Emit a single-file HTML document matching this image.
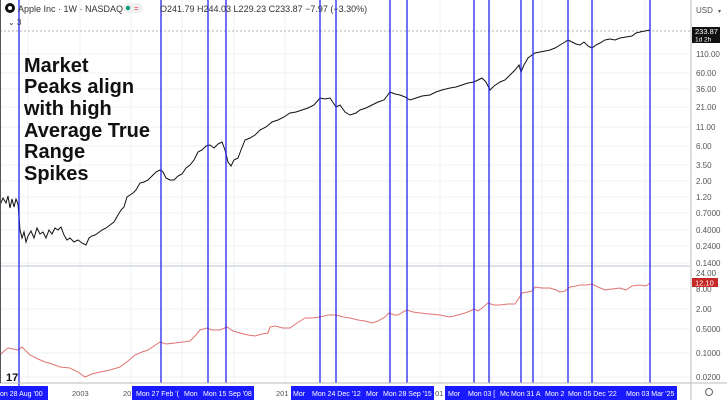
<!DOCTYPE html>
<html><head><meta charset="utf-8"><style>
html,body{margin:0;padding:0;background:#fff;width:727px;height:400px;overflow:hidden}
svg{display:block;font-family:"Liberation Sans",sans-serif}
</style></head><body>
<svg width="727" height="400" viewBox="0 0 727 400" xmlns="http://www.w3.org/2000/svg">
<rect width="727" height="400" fill="#fff"/>
<g stroke="#eef1f6" stroke-width="1">
<line x1="0" y1="54" x2="690" y2="54"/><line x1="0" y1="73" x2="690" y2="73"/><line x1="0" y1="89" x2="690" y2="89"/><line x1="0" y1="107" x2="690" y2="107"/><line x1="0" y1="127" x2="690" y2="127"/><line x1="0" y1="146" x2="690" y2="146"/><line x1="0" y1="165" x2="690" y2="165"/><line x1="0" y1="181" x2="690" y2="181"/><line x1="0" y1="197" x2="690" y2="197"/><line x1="0" y1="213" x2="690" y2="213"/><line x1="0" y1="230" x2="690" y2="230"/><line x1="0" y1="246" x2="690" y2="246"/><line x1="0" y1="263" x2="690" y2="263"/><line x1="0" y1="289" x2="690" y2="289"/><line x1="0" y1="309" x2="690" y2="309"/><line x1="0" y1="329" x2="690" y2="329"/><line x1="0" y1="353" x2="690" y2="353"/><line x1="0" y1="377" x2="690" y2="377"/>
<line x1="28" y1="0" x2="28" y2="383"/><line x1="80" y1="0" x2="80" y2="383"/><line x1="131" y1="0" x2="131" y2="383"/><line x1="182" y1="0" x2="182" y2="383"/><line x1="234" y1="0" x2="234" y2="383"/><line x1="285" y1="0" x2="285" y2="383"/><line x1="336" y1="0" x2="336" y2="383"/><line x1="388" y1="0" x2="388" y2="383"/><line x1="440" y1="0" x2="440" y2="383"/><line x1="491" y1="0" x2="491" y2="383"/><line x1="542" y1="0" x2="542" y2="383"/><line x1="594" y1="0" x2="594" y2="383"/><line x1="645" y1="0" x2="645" y2="383"/>
</g>
<line x1="0" y1="31" x2="690" y2="31" stroke="#999" stroke-dasharray="2,2" stroke-width="0.7"/>
<line x1="0" y1="266" x2="690" y2="266" stroke="#dde1e8" stroke-width="2"/>
<polyline fill="none" stroke="#d9534f" stroke-width="1" opacity="0.8" points="0,355 4,351 8,348 13,349 18,350 22,347 26,351 30,355 38,359 45,362 52,364 60,367 70,368 78,372 85,377 92,374 100,372 110,370 120,367 128,361 135,355 142,352 148,350 154,346 160,342 166,344 175,343 183,342 190,341 195,336 200,330 207,328 212,330 220,330 227,327 233,331 240,333 248,335 255,336 262,334 268,333 270,327 275,326 283,328 290,328 297,323 305,318 312,318 320,317 328,315 336,315 343,317 350,318 358,320 365,321 372,323 378,321 385,317 389,313 394,315 398,315 403,312 407,310 413,312 420,313 430,314 440,315 450,317 458,315 465,313 470,311 474,309 478,311 482,308 488,303 494,305 500,305 508,304 515,304 519,298 522,293 528,292 532,291 535,287 542,288 550,288 556,290 560,292 565,291 570,287 576,286 580,285 586,285 592,284 598,287 605,290 612,289 620,288 626,290 632,286 640,285 646,286 650,283"/>
<polyline fill="none" stroke="#111" stroke-width="1" points="0,205 3,198 6,203 8,196 10,208 12,199 14,207 16,199 18,204 20,230 22,238 24,232 26,242 28,236 31,231 34,238 37,228 40,234 43,232 46,238 49,230 52,234 55,228 58,230 61,227 64,235 67,240 70,238 74,242 78,240 82,243 86,245 89,238 92,236 95,235 98,233 102,230 106,228 110,225 114,222 118,215 121,210 124,207 127,197 130,195 133,193 136,190 140,183 144,182 148,180 152,176 156,172 160,170 163,172 166,178 170,180 174,180 178,176 182,174 186,168 190,165 194,160 198,152 202,150 206,146 210,145 214,148 218,144 222,142 225,150 228,162 231,166 234,160 238,158 241,150 245,140 250,138 255,135 260,130 266,127 272,122 278,120 284,117 290,113 296,112 302,110 308,108 314,105 320,98 325,99 330,98 336,107 340,105 345,112 350,115 356,113 360,110 366,108 372,105 378,102 384,100 390,92 395,94 400,95 405,97 410,100 416,98 422,96 430,95 436,92 442,90 450,88 456,87 462,85 468,83 474,82 478,80 482,78 486,82 490,90 494,86 500,82 505,80 510,75 515,70 519,65 521,72 524,65 528,58 532,55 535,53 540,52 545,51 550,50 555,48 560,45 565,42 568,40 572,42 576,44 580,45 584,42 588,46 592,48 596,45 600,43 605,40 610,39 615,40 620,38 626,37 632,36 636,33 640,32 645,31 650,30"/>
<g stroke="#2222ee" stroke-width="1.5" opacity="0.85">
<line x1="19" y1="0" x2="19" y2="400"/><line x1="161" y1="0" x2="161" y2="383"/><line x1="208" y1="0" x2="208" y2="383"/><line x1="226" y1="0" x2="226" y2="383"/><line x1="320" y1="0" x2="320" y2="383"/><line x1="336" y1="0" x2="336" y2="383"/><line x1="390" y1="0" x2="390" y2="383"/><line x1="407" y1="0" x2="407" y2="383"/><line x1="474" y1="0" x2="474" y2="383"/><line x1="489" y1="0" x2="489" y2="383"/><line x1="521" y1="0" x2="521" y2="383"/><line x1="533" y1="0" x2="533" y2="383"/><line x1="568" y1="0" x2="568" y2="383"/><line x1="592" y1="0" x2="592" y2="383"/><line x1="650" y1="0" x2="650" y2="383"/>
</g>
<g font-weight="bold" font-size="20" fill="#111">
<text x="24" y="72">Market</text><text x="24" y="93">Peaks align</text><text x="24" y="115">with high</text><text x="24" y="137">Average True</text><text x="24" y="158">Range</text><text x="24" y="180">Spikes</text>
</g>
<circle cx="10" cy="8" r="5" fill="#111"/><circle cx="10" cy="8" r="2" fill="#fff"/>
<text x="18" y="12" font-size="9" fill="#333">Apple Inc · 1W · NASDAQ</text>
<rect x="123" y="3" width="20" height="10" rx="5" fill="#f0f0f0"/><circle cx="128" cy="8" r="2.2" fill="#089981"/><text x="134" y="11" font-size="8" fill="#f23645">=</text>
<text x="160" y="12" font-size="9" fill="#333">O241.79 H244.03 L229.23 C233.87 −7.97 (−3.30%)</text>
<text x="8" y="25" font-size="8" fill="#333">⌄ 3</text>
<line x1="691" y1="0" x2="691" y2="400" stroke="#bbb"/>
<line x1="0" y1="383" x2="727" y2="383" stroke="#bbb"/>
<line x1="0" y1="0" x2="0" y2="383" stroke="#555" stroke-width="2"/>
<g font-size="8" fill="#555">
<text x="696" y="13">USD</text><text x="718" y="13" font-size="6">▾</text>
<text x="696" y="57">110.00</text><text x="696" y="76">60.00</text><text x="696" y="92">36.00</text><text x="696" y="110">21.00</text><text x="696" y="130">11.00</text><text x="696" y="149">6.00</text><text x="696" y="168">3.50</text><text x="696" y="184">2.00</text><text x="696" y="200">1.20</text><text x="696" y="216">0.7000</text><text x="696" y="233">0.4000</text><text x="696" y="249">0.2400</text><text x="696" y="266">0.1400</text><text x="696" y="276">24.00</text><text x="696" y="292">8.00</text><text x="696" y="312">2.00</text><text x="696" y="332">0.5000</text><text x="696" y="356">0.1000</text><text x="696" y="380">0.0200</text>
</g>
<rect x="692" y="27" width="28" height="16" fill="#111"/>
<text x="695" y="34" font-size="7.5" fill="#fff">233.87</text><text x="695" y="41.5" font-size="6.5" fill="#fff">1d 2h</text>
<rect x="692" y="278" width="26" height="9" fill="#c62828"/>
<text x="695" y="285.5" font-size="7.5" fill="#fff">12.10</text>
<circle cx="709" cy="392" r="3.5" fill="none" stroke="#666" stroke-width="1"/>
<text x="6" y="381" font-size="11" font-weight="bold" fill="#111">17</text>
<g font-size="7.5" fill="#555"><text x="72" y="396">2003</text><text x="123" y="396">20</text><text x="276" y="396">201</text><text x="435" y="396">01</text></g>
<g fill="#1a1aff"><rect x="0" y="386" width="48" height="14"/><rect x="132" y="386" width="122" height="14"/><rect x="291" y="386" width="143" height="14"/><rect x="445" y="386" width="232" height="14"/></g>
<g font-size="7" fill="#fff">
<text x="0" y="396">on 28 Aug '00</text>
<text x="136" y="396">Mon 27 Feb '(</text><text x="184" y="396">Mon</text><text x="203" y="396">Mon 15 Sep '08</text>
<text x="293" y="396">Mor</text><text x="312" y="396">Mon 24 Dec '12</text><text x="366" y="396">Mor</text><text x="383" y="396">Mon 28 Sep '15</text>
<text x="448" y="396">Mor</text><text x="468" y="396">Mon 03 [</text><text x="500" y="396">Mc</text><text x="511" y="396">Mon 31 A</text><text x="545" y="396">Mon 2</text><text x="568" y="396">Mon 05 Dec '22</text><text x="626" y="396">Mon 03 Mar '25</text>
</g>
</svg>
</body></html>
